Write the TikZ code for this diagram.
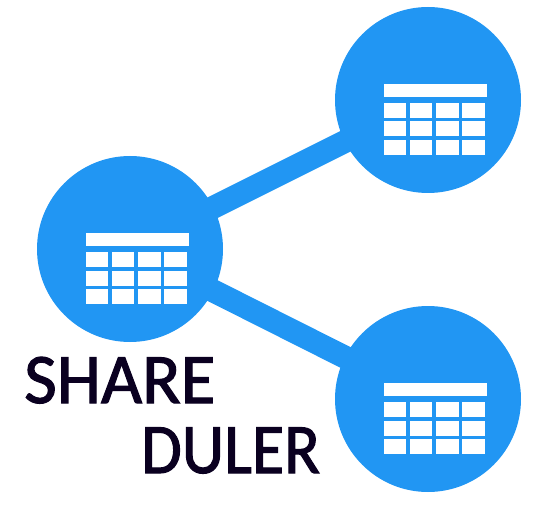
\documentclass[tikz,border=0pt]{standalone}
\usepackage{fontspec}
\setmainfont[FakeBold=1.6]{Carlito}
\usepackage{tikz}
\definecolor{hubblue}{HTML}{2196F3}
\definecolor{inkdark}{HTML}{0A0020}

\newcommand{\tablecells}[1]{%
    \fill[white] ([shift={(-44.5,-16)}]#1) rectangle ([shift={(58.5,-3)}]#1);
    \foreach \row in {3,21.5,40} {
        \foreach \col in {-44.5,-18.5,8,34} {
            \fill[white] ([shift={(\col,\row)}]#1) rectangle ([shift={(\col+22.5,\row+15)}]#1);
        }
    }
}

\begin{document}
\begin{tikzpicture}[
                x=1pt, y=-1pt,
                hub/.style={circle, fill=hubblue, minimum size=186pt, inner sep=0pt},
                link/.style={draw=hubblue, line width=23pt},
                logo/.style={text=inkdark, font=\fontsize{71}{71}\selectfont, inner sep=0pt, anchor=base west}
            ]
            \useasboundingbox (0,0) rectangle (557,505);

            \node (left) [hub] at (130,249) {};
            \node (top) [hub] at (428,100) {};
            \node (bottom) [hub] at (428,399) {};

            \draw [link] (left.center) -- (top.center);
            \draw [link] (left.center) -- (bottom.center);

            \tablecells{left}
            \tablecells{top}
            \tablecells{bottom}

            \node (share) [logo] at (24,403) {SHARE};
            \node (duler) [logo, xscale=0.93] at (141,473) {DULER};
\end{tikzpicture}
\end{document}
